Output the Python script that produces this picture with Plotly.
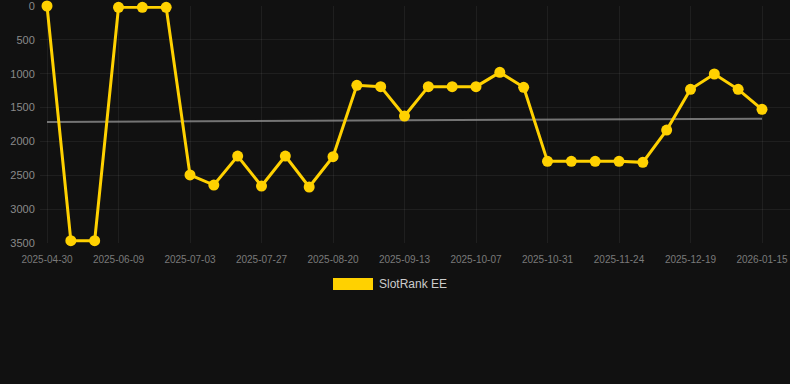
import plotly.graph_objects as go

dates = [
    "2025-04-30", "2025-05-13", "2025-05-27", "2025-06-09", "2025-06-17", "2025-06-25",
    "2025-07-03", "2025-07-11", "2025-07-19", "2025-07-27", "2025-08-04", "2025-08-12",
    "2025-08-20", "2025-08-28", "2025-09-05", "2025-09-13", "2025-09-21", "2025-09-29",
    "2025-10-07", "2025-10-15", "2025-10-23", "2025-10-31", "2025-11-08", "2025-11-16",
    "2025-11-24", "2025-12-02", "2025-12-10", "2025-12-19", "2025-12-28", "2026-01-06",
    "2026-01-15",
]
rank = [
    0, 3465, 3465, 20, 20, 20,
    2495, 2644, 2216, 2659, 2216, 2673,
    2225, 1172, 1191, 1625, 1191, 1191,
    1191, 980, 1201, 2294, 2294, 2294,
    2294, 2309, 1832, 1231, 1004, 1231,
    1526,
]
trend_x = [dates[0], dates[-1]]
trend_y = [1713, 1664]
tick_labels = dates[::3]
y_ticks = [0, 500, 1000, 1500, 2000, 2500, 3000, 3500]
series_name = "SlotRank EE"

YELLOW = "#FFD100"
BG = "#111111"
GRID = "rgba(255,255,255,0.06)"
FONT = "Liberation Sans, Arial, sans-serif"

fig = go.Figure()
fig.add_trace(go.Scatter(
    x=trend_x, y=trend_y, mode="lines",
    line=dict(color="rgba(150,150,150,0.75)", width=2),
    hoverinfo="skip", showlegend=False,
))
fig.add_trace(go.Scatter(
    x=dates, y=rank, mode="lines+markers", name=series_name,
    line=dict(color=YELLOW, width=3),
    marker=dict(color=YELLOW, size=11),
    cliponaxis=False, showlegend=False,
))

# legend drawn as box + text
fig.add_shape(type="rect", xref="paper", yref="paper",
              x0=(333 - 40) / 750, x1=(373 - 40) / 750,
              y0=(243 - 290) / 237, y1=(243 - 278) / 237,
              fillcolor=YELLOW, line=dict(width=0))
fig.add_annotation(text=series_name, xref="paper", yref="paper",
                   x=(377 - 40) / 750, y=(243 - 284) / 237,
                   xanchor="left", yanchor="middle", showarrow=False,
                   font=dict(family=FONT, size=12, color="#cccccc"))

fig.update_layout(
    width=790, height=384,
    margin=dict(l=40, r=0, t=6, b=141),
    paper_bgcolor=BG, plot_bgcolor=BG,
    font=dict(family=FONT, color="#888888"),
    showlegend=False,
    xaxis=dict(
        type="category", categoryorder="array", categoryarray=dates,
        range=[-0.294, 31.175],
        tickmode="array", tickvals=tick_labels, ticktext=tick_labels,
        tickfont=dict(size=10, color="#7a7a7a"),
        showgrid=True, gridcolor=GRID, gridwidth=1,
        zeroline=False, showline=False,
        ticks="outside", ticklen=7, tickcolor="rgba(0,0,0,0)",
        ticklabeloverflow="allow",
    ),
    yaxis=dict(
        range=[3500, 0],
        tickmode="array", tickvals=y_ticks,
        tickfont=dict(size=11, color="#8a8a8a"),
        showgrid=True, gridcolor=GRID, gridwidth=1,
        zeroline=False, showline=False,
        ticks="outside", ticklen=2, tickcolor="rgba(0,0,0,0)",
        ticklabeloverflow="allow",
    ),
)

fig.write_html(
    "out.html",
    config={"displayModeBar": False},
    post_script="document.body.style.margin='0px';document.body.style.overflow='hidden';document.body.style.background='#111111';",
)
